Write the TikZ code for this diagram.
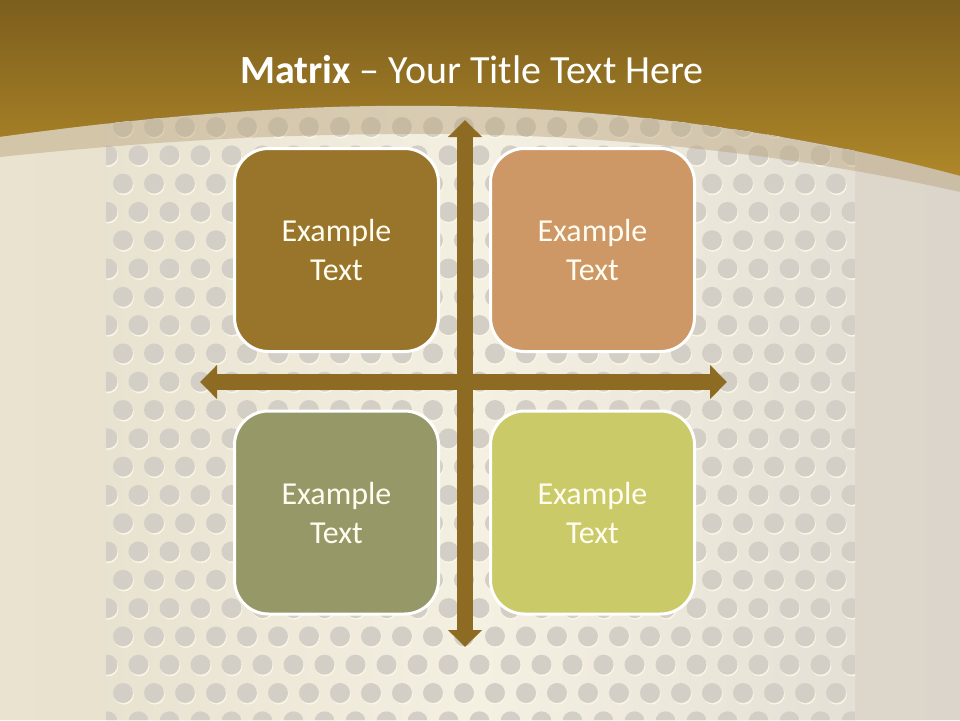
\documentclass[tikz,border=0pt]{standalone}
\usepackage{fontspec}
\setmainfont{Carlito}
\usetikzlibrary{arrows.meta}
\definecolor{goldTop}{HTML}{7C5E1D}
\definecolor{goldBot}{HTML}{B68D2B}
\definecolor{creamL}{HTML}{EAE3CF}
\definecolor{creamR}{HTML}{DBD5CB}
\definecolor{panelL}{HTML}{E8E2D0}
\definecolor{panelMid}{HTML}{F4F0E2}
\definecolor{panelR}{HTML}{E5E0D5}
\definecolor{dotGrey}{HTML}{D4CFC6}
\definecolor{dotLight}{HTML}{FAF6E6}
\definecolor{bandTan}{HTML}{B9A27A}
\definecolor{arrowGold}{HTML}{8E6B22}
\definecolor{boxA}{HTML}{98752A}
\definecolor{boxB}{HTML}{CD9766}
\definecolor{boxC}{HTML}{979867}
\definecolor{boxD}{HTML}{CBCA68}
\definecolor{txtW}{HTML}{FFFCF0}

\begin{document}
\begin{tikzpicture}
  [x=1pt,y=-1pt,
   matN/.style={draw=white,line width=3pt,rounded corners=34pt,
                minimum width=204pt,minimum height=203pt,
                text=txtW,align=center,font=\fontsize{32}{39}\selectfont},
   titleN/.style={text=white,font=\fontsize{40}{48}\selectfont},
   axisN/.style={arrowGold,line width=15.5pt,
                 {Triangle[width=33pt,length=17pt]}-{Triangle[width=33pt,length=17pt]}},
  ]
 \useasboundingbox (0,0) rectangle (960,720);

 % background
 \fill[top color=goldTop,bottom color=goldBot] (0,0) rectangle (960,200);
 \path[left color=creamL,right color=creamR]
   (0,137) .. controls (160,115) and (300,104) .. (440,106)
           .. controls (620,108) and (800,133) .. (960,176)
   -- (960,720) -- (0,720) -- cycle;

 \begin{scope}
  \clip (0,137) .. controls (160,115) and (300,104) .. (440,106)
                .. controls (620,108) and (800,133) .. (960,176)
        -- (960,720) -- (0,720) -- cycle;
  \clip (106,0) rectangle (855,720);
  \fill[left color=panelL,right color=panelR,middle color=panelMid]
    (106,0) rectangle (855,720);
  \foreach \k in {0,...,21}{
   \foreach \j in {-1,...,24}{
    \pgfmathsetmacro\dx{123+31*\j+15.5*mod(\k,2)}
    \pgfmathsetmacro\dy{127+28.3*\k}
    \fill[dotLight] (\dx+0.8,\dy+1.6) circle (10);
    \fill[dotGrey]  (\dx,\dy) circle (10);
   }
  }
 \end{scope}

 \fill[bandTan,opacity=0.45]
   (0,137) .. controls (160,115) and (300,104) .. (440,106)
           .. controls (620,108) and (800,133) .. (960,176)
   -- (960,192) .. controls (820,160) and (640,136) .. (450,134)
                .. controls (300,133) and (160,140) .. (0,157) -- cycle;

 \node[titleN] (title) at (472,70) {\textbf{Matrix} – Your Title Text Here};

 % axes
 \coordinate (vTop) at (465,120);
 \coordinate (vBot) at (465,647);
 \coordinate (hLeft)  at (200,382);
 \coordinate (hRight) at (727,382);
 \draw[axisN] (vTop) -- (vBot);
 \draw[axisN] (hLeft) -- (hRight);

 \node[matN,fill=boxA] (tl) at (336.5,250)   {Example\\Text};
 \node[matN,fill=boxB] (tr) at (592.5,250)   {Example\\Text};
 \node[matN,fill=boxC] (bl) at (336.5,512.5) {Example\\Text};
 \node[matN,fill=boxD] (br) at (592.5,512.5) {Example\\Text};

\end{tikzpicture}
\end{document}
